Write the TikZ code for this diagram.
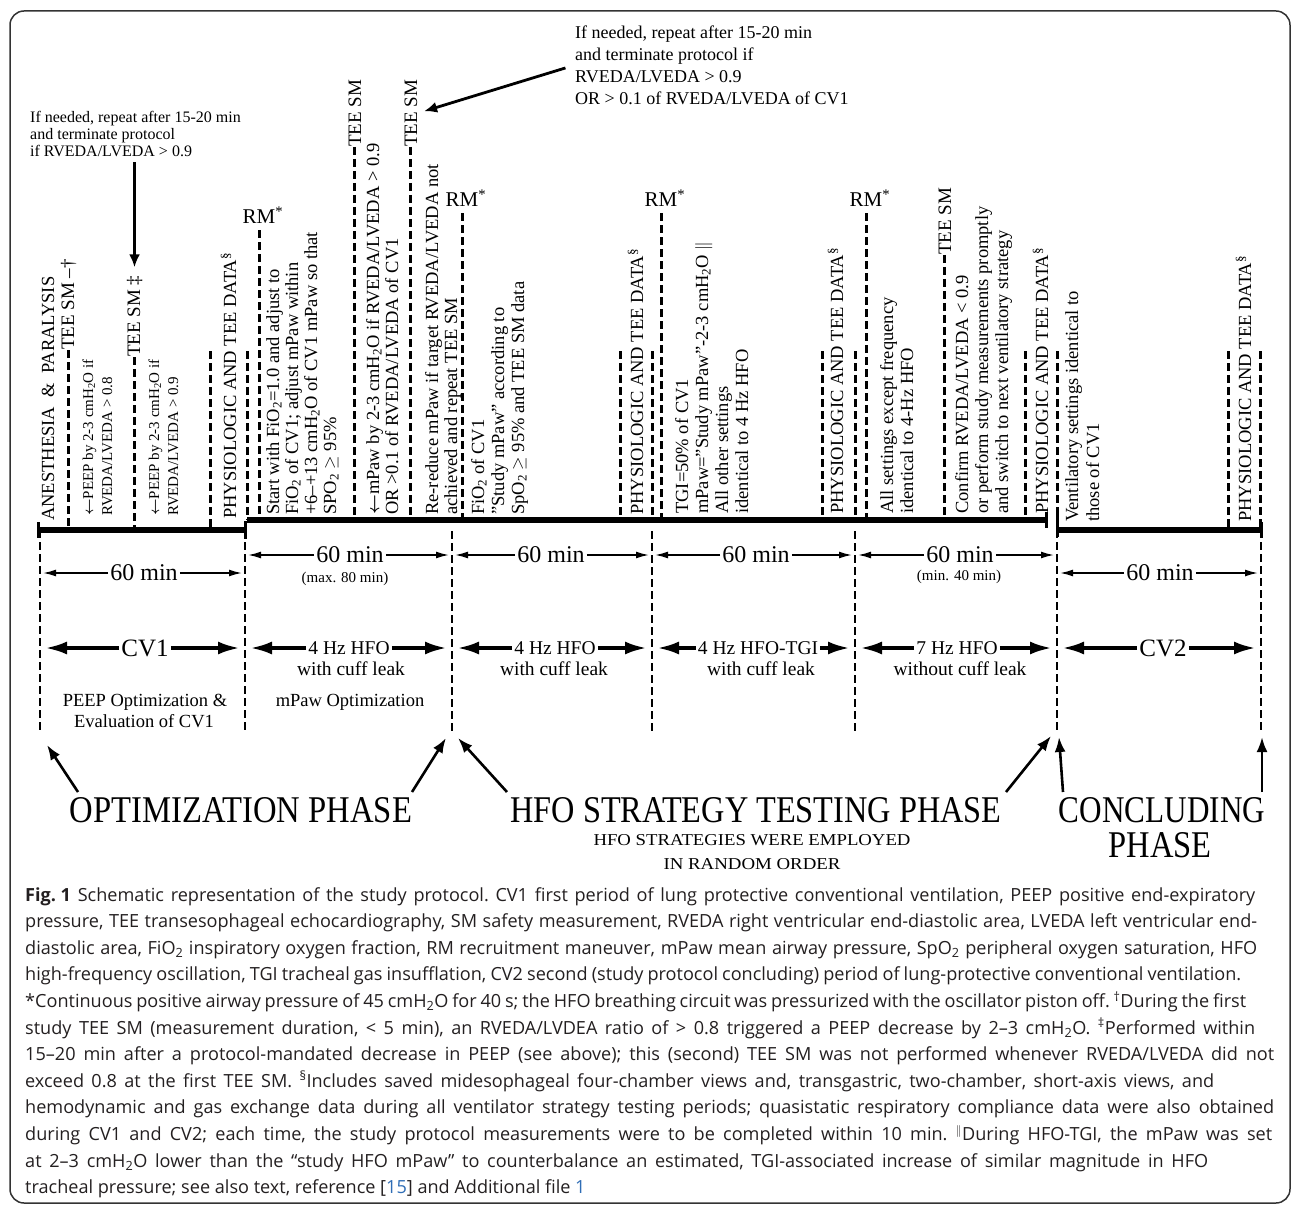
\documentclass[tikz,border=0pt]{standalone}
\usepackage{fontspec}
\usepackage{graphicx}
\setmainfont{Liberation Serif}
\newfontfamily\capfont{Open Sans}
\usetikzlibrary{arrows.meta,calc}
\definecolor{capcol}{HTML}{231F20}
\definecolor{linkcol}{HTML}{2F6DB5}
\definecolor{framecol}{HTML}{333333}
\newcommand{\capline}[2]{\makebox[#1pt][s]{#2}}
\begin{document}
\begin{tikzpicture}[x=1pt,y=-1pt,
  rt/.style={rotate=90,anchor=base west,inner sep=0pt,font=\fontsize{18.5}{20}\selectfont},
  rts/.style={rt,font=\fontsize{15}{17}\selectfont},
  tee/.style={rt,font=\fontsize{19}{21}\selectfont},
  rmlab/.style={inner sep=0pt,anchor=base,font=\fontsize{21}{24}\selectfont},
  dl/.style={line width=3pt,dash pattern=on 8pt off 4pt},
  dlow/.style={line width=2.8pt,dash pattern=on 8pt off 4pt},
  tline/.style={line width=6pt},
  tick/.style={line width=3pt},
  minlab/.style={inner sep=2pt,font=\fontsize{24}{26}\selectfont},
  subl/.style={inner sep=0pt,font=\fontsize{15}{17}\selectfont},
  modl/.style={inner sep=2pt,font=\fontsize{19.5}{22}\selectfont},
  cvl/.style={inner sep=2pt,font=\fontsize{25}{28}\selectfont},
  optl/.style={inner sep=0pt,font=\fontsize{18.5}{21}\selectfont},
  annA/.style={inner sep=0pt,anchor=base west,font=\fontsize{16}{17}\selectfont},
  annB/.style={inner sep=0pt,anchor=base west,font=\fontsize{18}{22}\selectfont},
  arrmin/.style={line width=1.6pt,-{Latex[length=13pt,width=7pt]},shorten >=3pt},
  arrmod/.style={line width=3.8pt,-{Latex[length=22pt,width=13pt]},shorten >=5pt},
  parr/.style={line width=2.6pt,-{Latex[length=15pt,width=11pt]}},
  tarr/.style={line width=2.8pt,-{Latex[length=13pt,width=11pt]}},
  capl/.style={inner sep=0pt,anchor=base west,text=capcol,font=\capfont\fontsize{18.1}{20}\selectfont\frenchspacing},
]
\useasboundingbox (0,0) rectangle (1293,1206);
\draw[line width=1.5pt,draw=framecol,rounded corners=14pt] (10,11) rectangle (1290,1203);

% ---------- top annotations
\node[annA] (ann1a) at (30,123) {If needed, repeat after 15-20 min};
\node[annA] (ann1b) at (30,140) {and terminate protocol};
\node[annA] (ann1c) at (30,157) {if RVEDA/LVEDA > 0.9};
\node[annB] (ann2a) at (575,39) {If needed, repeat after 15-20 min};
\node[annB] (ann2b) at (575,61) {and terminate protocol if};
\node[annB] (ann2c) at (575,83) {RVEDA/LVEDA > 0.9};
\node[annB] (ann2d) at (575,105) {OR > 0.1 of RVEDA/LVEDA of CV1};

% ---------- timeline
\draw[tline] (38,530) coordinate (tA) -- (245,530) coordinate (tAe);
\draw[tline] (247,520) coordinate (tB) -- (1046,520) coordinate (tBe);
\draw[tline] (1057,530) coordinate (tC) -- (1261,530) coordinate (tCe);
\draw[tick] (tA) ++(0,-8) -- ++(0,16);
\draw[tick] (tAe) ++(0,-9) -- ++(0,18);
\draw[tick] (tBe) ++(0,-8) -- ++(0,16);
\draw[tick] (tC) ++(0,-17) -- ++(0,24);
\draw[tick] (tCe) ++(0,-8) -- ++(0,16);

% ---------- segment 1
\node[rt] (anes) at (54,521) {ANESTHESIA \ \& \ PARALYSIS};
\node[tee] (tee1) at (74,350) {TEE SM –\dag};
\draw[dl] (tee1.west) -- (tee1.west |- tA);
\node[rts] (pa1) at (93,516) {{\boldmath$\leftarrow$}PEEP by 2-3 cmH\textsubscript{2}O if};
\node[rts] (pa2) at (112,516) {RVEDA/LVEDA > 0.8};
\node[tee] (tee2) at (140,357) {TEE SM \ddag};
\draw[dl] (tee2.west) -- (tee2.west |- tA);
\node[rts] (pb1) at (159,516) {{\boldmath$\leftarrow$}PEEP by 2-3 cmH\textsubscript{2}O if};
\node[rts] (pb2) at (178,516) {RVEDA/LVEDA > 0.9};
\coordinate (d1) at (210,351);
\draw[dl] (d1) -- (d1 |- tA);
\node[rt] (ph1) at (236,519) {PHYSIOLOGIC AND TEE DATA\textsuperscript{\S}};
\coordinate (d2) at (247,351);
\draw[dl] (d2) -- (d2 |- tB);
\draw[tarr,shorten <=5pt,shorten >=8pt] (ann1c.south -| tee2.east) -- (tee2.east);

% ---------- segment 2
\node[rmlab] (rm1) at (259,224) {RM\rlap{\textsuperscript{*}}};
\draw[dl,shorten <=6pt] (rm1.south) -- (rm1.south |- tB);
\node[rt] (s2a) at (279,515) {Start with FiO\textsubscript{2}=1.0 and adjust to};
\node[rt] (s2b) at (298,515) {FiO\textsubscript{2} of CV1; adjust mPaw within};
\node[rt] (s2c) at (317,515) {+6–+13 cmH\textsubscript{2}O of CV1 mPaw so that};
\node[rt] (s2d) at (336,515) {SPO\textsubscript{2} $\geq$ 95\%};
\node[tee] (tee3) at (361,147) {TEE SM};
\draw[dl] (tee3.west) -- (tee3.west |- tB);
\node[rt] (s2e) at (379,515) {{\boldmath$\leftarrow$}mPaw by 2-3 cmH\textsubscript{2}O if RVEDA/LVEDA > 0.9};
\node[rt] (s2f) at (398,515) {OR >0.1 of RVEDA/LVEDA of CV1};
\node[tee] (tee4) at (417,147) {TEE SM};
\draw[dl] (tee4.west) -- (tee4.west |- tB);
\node[rt] (s2g) at (438,515) {Re-reduce mPaw if target RVEDA/LVEDA not};
\node[rt] (s2h) at (457,515) {achieved and repeat TEE SM};
\draw[tarr,shorten <=10pt,shorten >=7pt] (ann2b.south west) -- (tee4.south);

% ---------- segment 3
\node[rmlab] (rm2) at (462,207) {RM\rlap{\textsuperscript{*}}};
\draw[dl,shorten <=6pt] (rm2.south) -- (rm2.south |- tB);
\node[rt] (s3a) at (484,515) {FiO\textsubscript{2} of CV1};
\node[rt] (s3b) at (504,515) {"Study mPaw" according to};
\node[rt] (s3c) at (524,515) {SpO\textsubscript{2} $\geq$ 95\% and TEE SM data};
\coordinate (d3) at (620,351);
\draw[dl] (d3) -- (d3 |- tB);
\node[rt] (ph2) at (643,515) {PHYSIOLOGIC AND TEE DATA\textsuperscript{\S}};
\coordinate (d4) at (652,351);
\draw[dl] (d4) -- (d4 |- tB);

% ---------- segment 4
\node[rmlab] (rm3) at (661,207) {RM\rlap{\textsuperscript{*}}};
\draw[dl,shorten <=6pt] (rm3.south) -- (rm3.south |- tB);
\node[rt] (s4a) at (688,514) {TGI=50\% of CV1};
\node[rt] (s4b) at (708,514) {mPaw="Study mPaw"-2-3 cmH\textsubscript{2}O $\|$};
\node[rt] (s4c) at (728,514) {All other settings};
\node[rt] (s4d) at (748,514) {identical to 4 Hz HFO};
\coordinate (d5) at (822,351);
\draw[dl] (d5) -- (d5 |- tB);
\node[rt] (ph3) at (843,514) {PHYSIOLOGIC AND TEE DATA\textsuperscript{\S}};
\coordinate (d6) at (855,351);
\draw[dl] (d6) -- (d6 |- tB);

% ---------- segment 5
\node[rmlab] (rm4) at (866,207) {RM\rlap{\textsuperscript{*}}};
\draw[dl,shorten <=6pt] (rm4.south) -- (rm4.south |- tB);
\node[rt] (s5a) at (893,514) {All settings except frequency};
\node[rt] (s5b) at (913,514) {identical to 4-Hz HFO};
\node[tee] (tee5) at (951,255) {TEE SM};
\draw[dl] (tee5.west) -- (tee5.west |- tB);
\node[rt] (s5c) at (968,514) {Confirm RVEDA/LVEDA < 0.9};
\node[rt] (s5d) at (988,514) {or perform study measurements promptly};
\node[rt] (s5e) at (1008,514) {and switch to next ventilatory strategy};
\coordinate (d7) at (1025,351);
\draw[dl] (d7) -- (d7 |- tB);
\node[rt] (ph4) at (1048,514) {PHYSIOLOGIC AND TEE DATA\textsuperscript{\S}};
\coordinate (d8) at (1057,351);
\draw[dl] (d8) -- (d8 |- tC);

% ---------- segment 6
\node[rt] (s6a) at (1078,522) {Ventilatory settings identical to};
\node[rt] (s6b) at (1099,522) {those of CV1};
\coordinate (d9) at (1228,351);
\draw[dl] (d9) -- (d9 |- tC);
\node[rt] (ph5) at (1251,522) {PHYSIOLOGIC AND TEE DATA\textsuperscript{\S}};
\coordinate (d10) at (1260,351);
\draw[dl] (d10) -- (d10 |- tC);

% ---------- lower boundaries
\coordinate (b0) at (40,733);
\coordinate (b1) at (245,733);
\coordinate (b2) at (452,733);
\coordinate (b3) at (652,733);
\coordinate (b4) at (855,733);
\coordinate (b5) at (1057,733);
\coordinate (b6) at (1261,733);
\coordinate (b2t) at (452,531);
\coordinate (b3t) at (652,531);
\coordinate (b4t) at (855,531);
\draw[dlow] (b0 |- tA) -- (b0);
\draw[dlow] (b1 |- tA) -- (b1);
\draw[dlow] (b2t) -- (b2);
\draw[dlow] (b3t) -- (b3);
\draw[dlow] (b4t) -- (b4);
\draw[dlow] (b5 |- tC) -- (b5);
\draw[dlow] (b6 |- tC) -- (b6);

% ---------- row 1 durations
\node[minlab] (m1) at (144,573) {60 min};
\node[minlab] (m2) at (350,555) {60 min};
\node[minlab] (m3) at (551,555) {60 min};
\node[minlab] (m4) at (756,555) {60 min};
\node[minlab] (m5) at (960,555) {60 min};
\node[minlab] (m6) at (1160,573) {60 min};
\node[subl] (m2s) at (345,579) {(max. 80 min)};
\node[subl] (m5s) at (959,577) {(min. 40 min)};
\draw[arrmin] (m1.west) -- (m1.west -| b0);
\draw[arrmin] (m1.east) -- (m1.east -| b1);
\draw[arrmin] (m2.west) -- (m2.west -| b1);
\draw[arrmin] (m2.east) -- (m2.east -| b2);
\draw[arrmin] (m3.west) -- (m3.west -| b2);
\draw[arrmin] (m3.east) -- (m3.east -| b3);
\draw[arrmin] (m4.west) -- (m4.west -| b3);
\draw[arrmin] (m4.east) -- (m4.east -| b4);
\draw[arrmin] (m5.west) -- (m5.west -| b4);
\draw[arrmin] (m5.east) -- (m5.east -| b5);
\draw[arrmin] (m6.west) -- (m6.west -| b5);
\draw[arrmin] (m6.east) -- (m6.east -| b6);

% ---------- row 2 modes
\node[cvl] (v1) at (145,648) {CV1};
\node[modl] (h2) at (349,648) {4 Hz HFO};
\node[modl] (h3) at (555,648) {4 Hz HFO};
\node[modl] (h4) at (758,648) {4 Hz HFO-TGI};
\node[modl] (h5) at (957,648) {7 Hz HFO};
\node[cvl] (v2) at (1163,648) {CV2};
\node[modl,inner sep=0pt] (w2) at (351,669) {with cuff leak};
\node[modl,inner sep=0pt] (w3) at (554,669) {with cuff leak};
\node[modl,inner sep=0pt] (w4) at (761,669) {with cuff leak};
\node[modl,inner sep=0pt] (w5) at (960,669) {without cuff leak};
\draw[arrmod] (v1.west) -- (v1.west -| b0);
\draw[arrmod] (v1.east) -- (v1.east -| b1);
\draw[arrmod] (h2.west) -- (h2.west -| b1);
\draw[arrmod] (h2.east) -- (h2.east -| b2);
\draw[arrmod] (h3.west) -- (h3.west -| b2);
\draw[arrmod] (h3.east) -- (h3.east -| b3);
\draw[arrmod] (h4.west) -- (h4.west -| b3);
\draw[arrmod] (h4.east) -- (h4.east -| b4);
\draw[arrmod] (h5.west) -- (h5.west -| b4);
\draw[arrmod] (h5.east) -- (h5.east -| b5);
\draw[arrmod] (v2.west) -- (v2.west -| b5);
\draw[arrmod] (v2.east) -- (v2.east -| b6);

% ---------- row 3
\node[optl] (o1a) at (145,702) {PEEP Optimization \&};
\node[optl] (o1b) at (144,721) {Evaluation of CV1};
\node[optl] (o2) at (350,702) {mPaw Optimization};

% ---------- phases
\node[inner sep=0pt] (p1) at (241,810) {\resizebox{342pt}{25pt}{OPTIMIZATION PHASE}};
\node[inner sep=0pt] (p2) at (756,810) {\resizebox{491pt}{25pt}{HFO STRATEGY TESTING PHASE}};
\node[inner sep=0pt] (p3) at (1162,810) {\resizebox{206pt}{25pt}{CONCLUDING}};
\node[inner sep=0pt] (p3b) at (1160,845) {\resizebox{103pt}{25pt}{PHASE}};
\node[inner sep=0pt] (p2a) at (752,840) {\resizebox{317pt}{11pt}{HFO STRATEGIES WERE EMPLOYED}};
\node[inner sep=0pt] (p2b) at (752,864) {\resizebox{177pt}{11pt}{IN RANDOM ORDER}};
\coordinate (q1s) at (78,792);   \coordinate (q1e) at (47,745);
\coordinate (q2s) at (412,792);  \coordinate (q2e) at (446,738);
\coordinate (q3s) at (507,792);  \coordinate (q3e) at (458,738);
\coordinate (q4s) at (1006,792); \coordinate (q4e) at (1051,736);
\coordinate (q5s) at (1063,792); \coordinate (q5e) at (1059,737);
\coordinate (q6s) at (1262,792); \coordinate (q6e) at (1262,737);
\draw[parr] (q1s) -- (q1e);
\draw[parr] (q2s) -- (q2e);
\draw[parr] (q3s) -- (q3e);
\draw[parr] (q4s) -- (q4e);
\draw[parr] (q5s) -- (q5e);
\draw[parr] (q6s) -- (q6e);

% ---------- caption
\node[capl] (c1) at (25,901) {\capline{1230}{\mbox{\textbf{Fig. 1}} Schematic representation of the study protocol. CV1 first period of lung protective conventional ventilation, PEEP positive end-expiratory}};
\node[capl] (c2) at (25,927.6) {\capline{1232}{pressure, TEE transesophageal echocardiography, SM safety measurement, RVEDA right ventricular end-diastolic area, LVEDA left ventricular end-}};
\node[capl] (c3) at (25,954.2) {\capline{1232}{diastolic area, FiO\textsubscript{2} inspiratory oxygen fraction, RM recruitment maneuver, mPaw mean airway pressure, SpO\textsubscript{2} peripheral oxygen saturation, HFO}};
\node[capl] (c4) at (25,980.8) {\capline{1216}{high-frequency oscillation, TGI tracheal gas insufflation, CV2 second (study protocol concluding) period of lung-protective conventional ventilation.}};
\node[capl] (c5) at (25,1007.4) {\capline{1221}{*Continuous positive airway pressure of 45 cmH\textsubscript{2}O for 40 s; the HFO breathing circuit was pressurized with the oscillator piston off. \textsuperscript{\dag}During the first}};
\node[capl] (c6) at (25,1034) {\capline{1230}{study TEE SM (measurement duration, < 5 min), an RVEDA/LVDEA ratio of > 0.8 triggered a PEEP decrease by 2–3 cmH\textsubscript{2}O. \textsuperscript{\ddag}Performed within}};
\node[capl] (c7) at (25,1060.6) {\capline{1249}{15–20 min after a protocol-mandated decrease in PEEP (see above); this (second) TEE SM was not performed whenever RVEDA/LVEDA did not}};
\node[capl] (c8) at (25,1087.2) {\capline{1189}{exceed 0.8 at the first TEE SM. \textsuperscript{\S}Includes saved midesophageal four-chamber views and, transgastric, two-chamber, short-axis views, and}};
\node[capl] (c9) at (25,1113.8) {\capline{1249}{hemodynamic and gas exchange data during all ventilator strategy testing periods; quasistatic respiratory compliance data were also obtained}};
\node[capl] (c10) at (25,1140.4) {\capline{1247}{during CV1 and CV2; each time, the study protocol measurements were to be completed within 10 min. \textsuperscript{$\|$}During HFO-TGI, the mPaw was set}};
\node[capl] (c11) at (25,1167) {\capline{1183}{at 2–3 cmH\textsubscript{2}O lower than the “study HFO mPaw” to counterbalance an estimated, TGI-associated increase of similar magnitude in HFO}};
\node[capl] (c12) at (25,1193.6) {tracheal pressure; see also text, reference [\textcolor{linkcol}{15}] and Additional file \textcolor{linkcol}{1}};
\end{tikzpicture}
\end{document}
